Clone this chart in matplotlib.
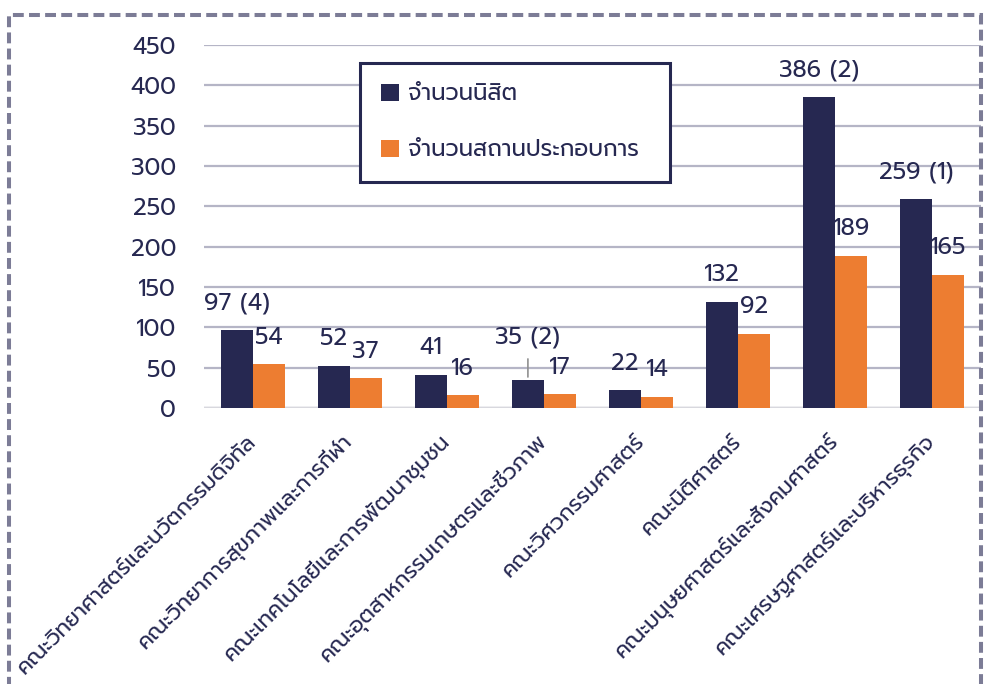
import matplotlib
matplotlib.use('Agg')
import matplotlib.pyplot as plt
from matplotlib.patches import Rectangle
import numpy as np

plt.rcParams['font.family'] = ['Prompt', 'DejaVu Sans']

# data
faculties = [
    'คณะวิทยาศาสตร์และนวัตกรรมดิจิทัล',
    'คณะวิทยาการสุขภาพและการกีฬา',
    'คณะเทคโนโลยีและการพัฒนาชุมชน',
    'คณะอุตสาหกรรมเกษตรและชีวภาพ',
    'คณะวิศวกรรมศาสตร์',
    'คณะนิติศาสตร์',
    'คณะมนุษยศาสตร์และสังคมศาสตร์',
    'คณะเศรษฐศาสตร์และบริหารธุรกิจ',
]
students = [97, 52, 41, 35, 22, 132, 386, 259]
students_extra = [4, None, None, 2, None, None, 2, 1]
companies = [54, 37, 16, 17, 14, 92, 189, 165]
series_names = ['จำนวนนิสิต', 'จำนวนสถานประกอบการ']

navy = '#262851'
orange = '#ED7D31'
grid_c = '#b5b5c6'

fig = plt.figure(figsize=(9.84, 6.84), dpi=100)
ax = fig.add_axes([204 / 984, 1 - 408 / 684, 777 / 984, 363 / 684])

x = np.arange(len(faculties))
w = 0.33
ax.bar(x - w / 2, students, w, color=navy, label=series_names[0], zorder=3)
ax.bar(x + w / 2, companies, w, color=orange, label=series_names[1], zorder=3)

ax.set_xlim(-0.5, len(faculties) - 0.5)
ax.set_ylim(0, 450)
ax.set_yticks(np.arange(0, 451, 50))
ax.yaxis.grid(True, color=grid_c, lw=1.6, zorder=0)
ax.axhline(0, color='#d8d8de', lw=2.5, zorder=2)
ax.set_axisbelow(True)
for s in ax.spines.values():
    s.set_visible(False)
ax.tick_params(axis='both', length=0, colors=navy)
ax.tick_params(axis='y', labelsize=17, pad=20)
ax.set_xticks(x)
ax.set_xticklabels(faculties, rotation=45, ha='right', va='center', rotation_mode='anchor',
                   fontsize=15.5, color=navy)
ax.tick_params(axis='x', pad=22)

# value labels
for xi, v, e in zip(x, students, students_extra):
    txt = '%d' % v if e is None else '%d (%d)' % (v, e)
    up = 31 if v == 35 else 19.5
    ax.annotate(txt, (xi - w / 2, v), xytext=(0, up), textcoords='offset points',
                ha='center', va='center', fontsize=17, color=navy)
    if up > 20:
        # leader line for the moved label
        ax.annotate('', (xi - w / 2, v), xytext=(0, up - 14), textcoords='offset points',
                    arrowprops=dict(arrowstyle='-', color='#909090', lw=1.2))
for xi, v in zip(x, companies):
    ax.annotate('%d' % v, (xi + w / 2, v), xytext=(0, 19.5), textcoords='offset points',
                ha='center', va='center', fontsize=17, color=navy)

leg = ax.legend(loc='upper left', bbox_to_anchor=(360 / 984, 1 - 63 / 684, 310 / 984, 0),
                bbox_transform=fig.transFigure, mode='expand', fontsize=16.5,
                frameon=True, fancybox=False, edgecolor=navy, labelspacing=1.5,
                borderpad=0.9, handlelength=0.8, handleheight=0.8, handletextpad=0.4,
                borderaxespad=0)
leg.get_frame().set_linewidth(2.2)
leg.get_frame().set_alpha(1)
for t in leg.get_texts():
    t.set_color(navy)

# dashed frame around the chart
fig.patches.append(Rectangle((9 / 984, -0.05), 972 / 984, 1.05 - 15 / 684, transform=fig.transFigure,
                             fill=False, edgecolor='#7c7c96', lw=2.9, linestyle=(0, (2.7, 1.3))))

fig.savefig('out.png')
